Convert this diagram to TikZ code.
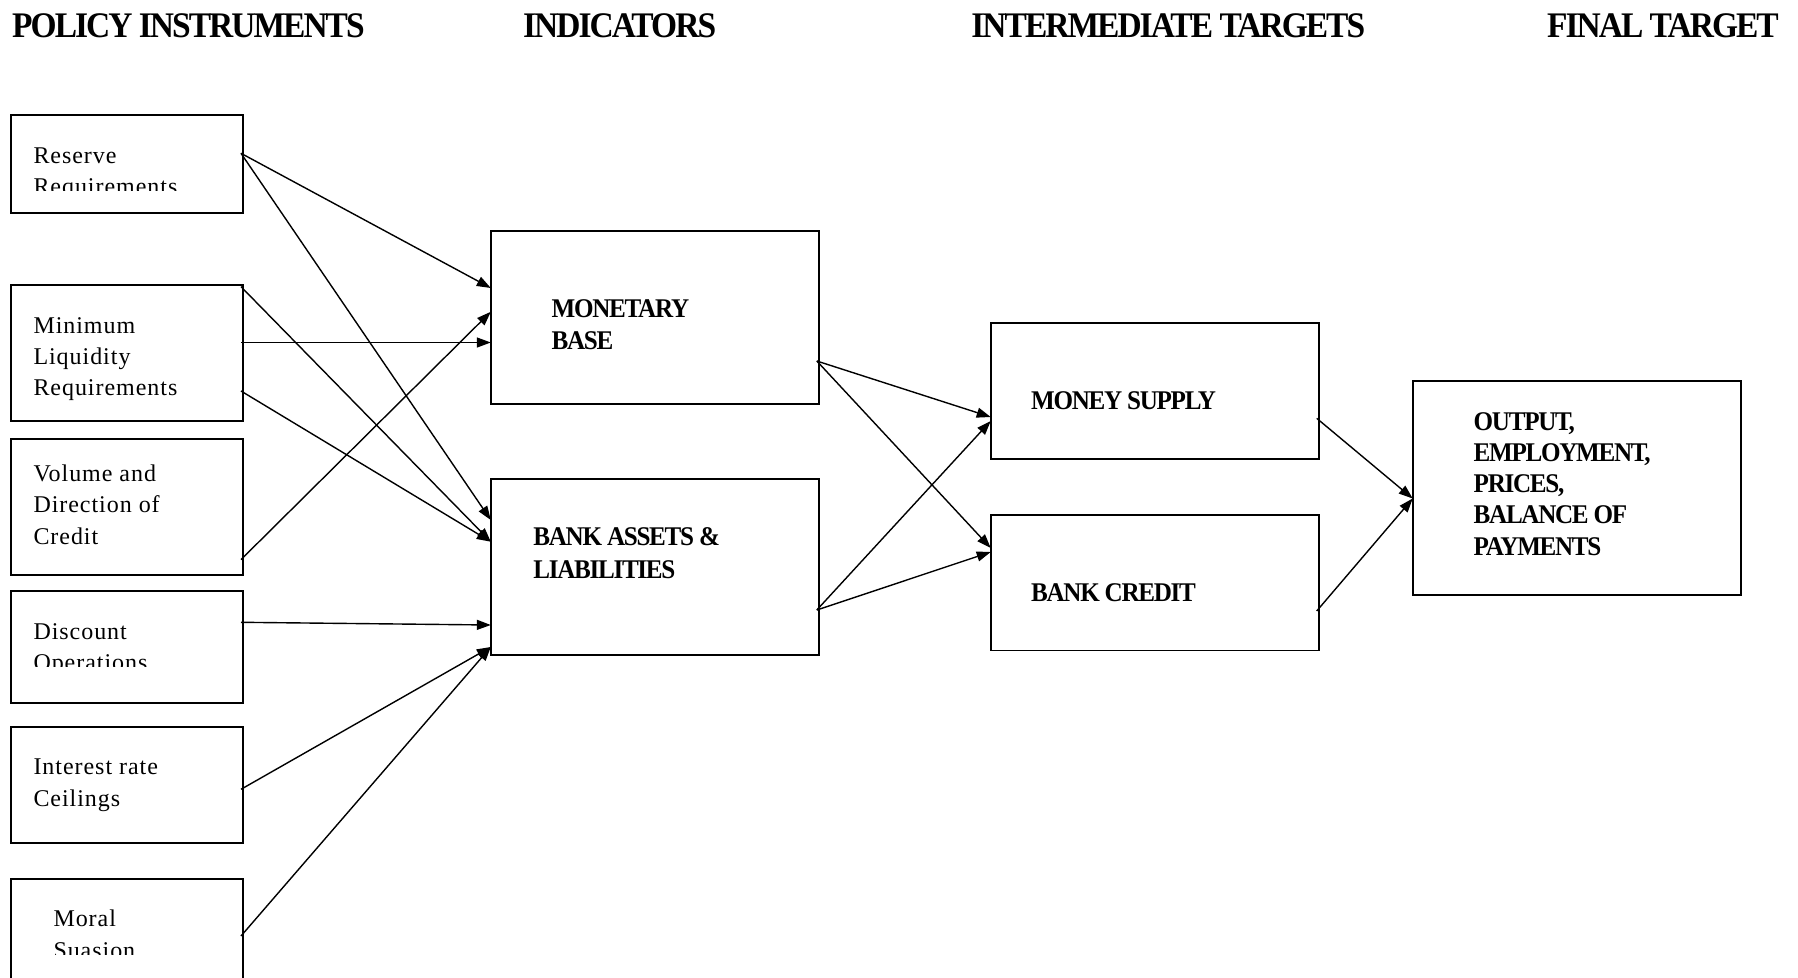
\documentclass[tikz,border=0pt]{standalone}
\usepackage{fontspec}
\setmainfont{Liberation Serif}
\newfontfamily\condfont[FakeStretch=0.93,LetterSpace=-5.5]{Liberation Serif}
\newfontfamily\condbfont[FakeStretch=0.93,LetterSpace=-4.8]{Liberation Serif}
\newfontfamily\widefont[LetterSpace=4]{Liberation Serif}
\usetikzlibrary{arrows.meta}
\tikzset{
  box/.style={draw, line width=1.8pt, rectangle, inner sep=0pt, outer sep=0pt, anchor=north west},
  arr/.style={line width=1.4pt, -{Triangle[length=14pt,width=10pt]}},
  head/.style={anchor=base west, inner sep=0pt, font=\condfont\bfseries\fontsize{36}{40}\selectfont},
  btxt/.style={anchor=base west, inner sep=0pt, font=\condbfont\bfseries\fontsize{27}{31}\selectfont},
  rtxt/.style={anchor=base west, inner sep=0pt, font=\widefont\fontsize{24}{31}\selectfont},
}
\begin{document}
\begin{tikzpicture}[x=1pt,y=-1pt]
\useasboundingbox (0,0) rectangle (1798,977);
\fill[white] (0,0) rectangle (1798,977);
\clip (0,0) rectangle (1798,977);

% headers
\node[head] (h1) at (12,37.5) {POLICY INSTRUMENTS};
\node[head] (h2) at (522.9,37.5) {INDICATORS};
\node[head] (h3) at (971.2,37.5) {INTERMEDIATE TARGETS};
\node[head] (h4) at (1546.9,37.5) {FINAL TARGET};

% policy instrument boxes
\node[box, minimum width=232pt, minimum height=98pt] (res) at (11,114.7) {};
\node[box, minimum width=232pt, minimum height=136pt] (min) at (11,285) {};
\node[box, minimum width=232pt, minimum height=135.7pt] (vol) at (11,439) {};
\node[box, minimum width=232pt, minimum height=111.7pt] (dis) at (11,591) {};
\node[box, minimum width=232pt, minimum height=116pt] (int) at (11,727) {};
\node[box, minimum width=232pt, minimum height=130pt] (mor) at (11,879) {};

% indicator, target boxes
\node[box, minimum width=328pt, minimum height=173.5pt] (mb) at (490.8,230.8) {};
\node[box, minimum width=328pt, minimum height=175.8pt] (ba) at (490.8,479) {};
\node[box, minimum width=328pt, minimum height=135.7pt] (ms) at (990.7,323) {};
\node[box, minimum width=328pt, minimum height=135.5pt] (bc) at (990.7,515) {};
\node[box, minimum width=328pt, minimum height=214.4pt] (fin) at (1412.7,380.7) {};

% regular texts
\node[rtxt] (t1) at (33.3,163.3) {Reserve};
\begin{scope}
\clip (20,170) rectangle (240,190.5);
\node[rtxt] (t2) at (33.3,194.5) {Requirements};
\end{scope}
\node[rtxt] (t3) at (33.3,333.3) {Minimum};
\node[rtxt] (t4) at (33.3,364.5) {Liquidity};
\node[rtxt] (t5) at (33.3,395.7) {Requirements};
\node[rtxt] (t6) at (33.3,481) {Volume and};
\node[rtxt] (t7) at (33.3,512.7) {Direction of};
\node[rtxt] (t8) at (33.3,544.3) {Credit};
\node[rtxt] (t9) at (33.3,639) {Discount};
\begin{scope}
\clip (20,645) rectangle (240,666);
\node[rtxt] (t10) at (33.3,670.5) {Operations};
\end{scope}
\node[rtxt] (t11) at (33.3,774) {Interest rate};
\node[rtxt] (t12) at (33.3,806) {Ceilings};
\node[rtxt] (t13) at (53.3,926.7) {Moral};
\begin{scope}
\clip (20,933) rectangle (240,954);
\node[rtxt] (t14) at (53.3,958) {Suasion};
\end{scope}

% bold texts
\node[btxt] (b1) at (551.5,317.3) {MONETARY};
\node[btxt] (b2) at (551.5,349) {BASE};
\node[btxt] (b3) at (533.2,545.5) {BANK ASSETS \&};
\node[btxt] (b4) at (533.2,578) {LIABILITIES};
\node[btxt] (b5) at (1030.9,409) {MONEY SUPPLY};
\node[btxt] (b6) at (1030.9,601) {BANK CREDIT};
\node[btxt] (b7) at (1473.5,430) {OUTPUT,};
\node[btxt] (b8) at (1473.5,461.5) {EMPLOYMENT,};
\node[btxt] (b9) at (1473.5,492.5) {PRICES,};
\node[btxt] (b10) at (1473.5,523.5) {BALANCE OF};
\node[btxt] (b11) at (1473.5,555) {PAYMENTS};

% connectors: instruments -> indicators
\draw[arr] ([xshift=-2pt,yshift=-38.6pt]res.north east) -- ([yshift=-57.2pt]mb.north west);
\draw[arr] ([xshift=-2pt,yshift=-38.6pt]res.north east) -- ([yshift=-41pt]ba.north west);
\draw[arr] ([xshift=-2pt,yshift=-1.7pt]min.north east) -- ([yshift=-62.7pt]ba.north west);
\draw[arr] ([xshift=-2pt,yshift=-57.5pt]min.north east) -- ([yshift=-111.7pt]mb.north west);
\draw[arr] ([xshift=-2pt,yshift=-106pt]min.north east) -- ([yshift=-62.7pt]ba.north west);
\draw[arr] ([xshift=-2pt,yshift=-120.6pt]vol.north east) -- ([yshift=-81pt]mb.north west);
\draw[arr] ([xshift=-2pt,yshift=-31.3pt]dis.north east) -- ([yshift=-146pt]ba.north west);
\draw[arr] ([xshift=-2pt,yshift=-62.3pt]int.north east) -- ([yshift=-168pt]ba.north west);
\draw[arr] ([xshift=-2pt,yshift=-57pt]mor.north east) -- ([yshift=-168pt]ba.north west);

% indicators -> intermediate targets
\draw[arr] ([xshift=-2pt,yshift=-130.2pt]mb.north east) -- ([yshift=-94pt]ms.north west);
\draw[arr] ([xshift=-2pt,yshift=-130.2pt]mb.north east) -- ([yshift=-33pt]bc.north west);
\draw[arr] ([xshift=-2pt,yshift=-131pt]ba.north east) -- ([yshift=-98pt]ms.north west);
\draw[arr] ([xshift=-2pt,yshift=-131pt]ba.north east) -- ([yshift=-37pt]bc.north west);

% intermediate -> final
\draw[arr] ([xshift=-2pt,yshift=-95.3pt]ms.north east) -- ([yshift=-117.8pt]fin.north west);
\draw[arr] ([xshift=-2pt,yshift=-96pt]bc.north east) -- ([yshift=-117.8pt]fin.north west);
\end{tikzpicture}
\end{document}
